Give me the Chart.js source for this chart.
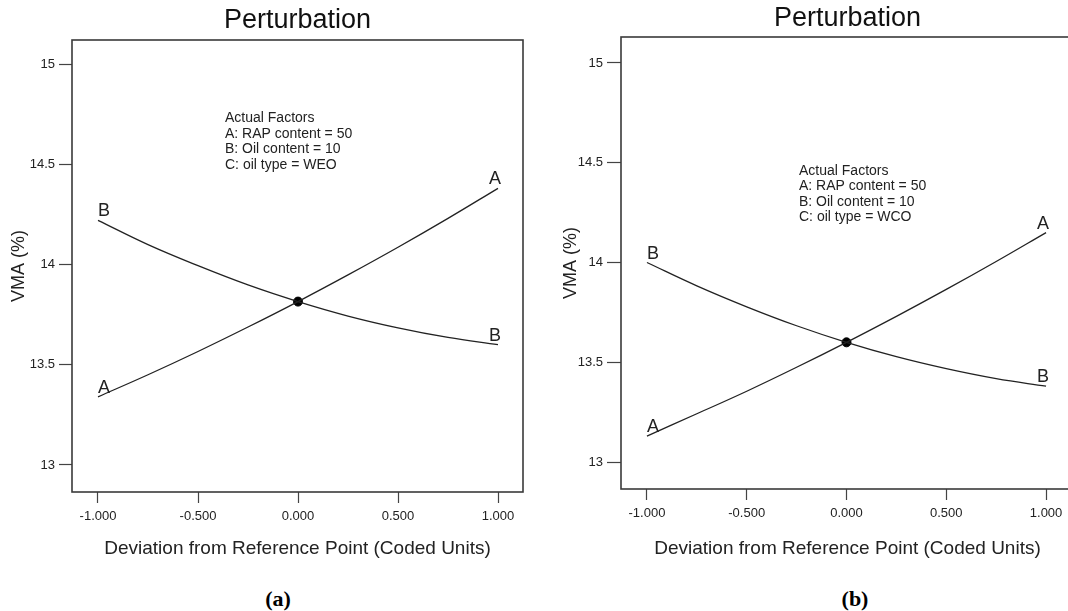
<!DOCTYPE html>
<html>
<head>
<meta charset="utf-8">
<title>Perturbation plots</title>
<script src="https://cdn.jsdelivr.net/npm/chart.js@4.4.1/dist/chart.umd.min.js"></script>
<style>
    html, body { margin: 0; padding: 0; background: #fff; width: 1068px; height: 611px; overflow: hidden; }
    .panel { position: absolute; top: 0; height: 566px; }
    #panelWeo { left: 0; width: 545px; }
    #panelWco { left: 545px; width: 540px; }
    .caption {
        position: absolute; top: 586px; line-height: 24px;
        font: bold 22px "Liberation Serif", "Times New Roman", serif;
        color: #000; transform: translateX(-50%);
    }
</style>
</head>
<body>
<div class="panel" id="panelWeo"><canvas id="chartWeo"></canvas></div>
<div class="panel" id="panelWco"><canvas id="chartWco"></canvas></div>
<div class="caption" style="left:278px">(a)</div>
<div class="caption" style="left:855px">(b)</div>
<script>
"use strict";

// coded deviation from the reference point
const coded = [-1, -0.75, -0.5, -0.25, 0, 0.25, 0.5, 0.75, 1];

// VMA (%) along each factor trace, oil type = WEO
const weoRap = [13.34, 13.45, 13.566, 13.688, 13.815, 13.948, 14.086, 14.23, 14.38];
const weoOil = [14.22, 14.099, 13.994, 13.898, 13.815, 13.743, 13.684, 13.636, 13.60];

// VMA (%) along each factor trace, oil type = WCO
const wcoRap = [13.13, 13.242, 13.355, 13.475, 13.6, 13.73, 13.865, 14.005, 14.15];
const wcoOil = [14.0, 13.883, 13.778, 13.683, 13.6, 13.528, 13.468, 13.418, 13.38];

// reference point (all factors at their actual values)
const refWeo = 13.815;
const refWco = 13.6;

const xTickValues = [-1, -0.5, 0, 0.5, 1];
const yTickValues = [13, 13.5, 14, 14.5, 15];

const factorsWeo = ["Actual Factors", "A: RAP content = 50", "B: Oil content = 10", "C: oil type = WEO"];
const factorsWco = ["Actual Factors", "A: RAP content = 50", "B: Oil content = 10", "C: oil type = WCO"];

const kFont = "'Liberation Sans', Arial, sans-serif";
const kInk = "#222";

Chart.defaults.font.family = kFont;
Chart.defaults.color = kInk;

function toPoints(values) {
    return values.map((y, i) => ({ x: coded[i], y }));
}

// box round the plotting area
const framePlugin = {
    id: "frame",
    afterDraw(chart) {
        const { ctx, chartArea: { left, top, right, bottom } } = chart;
        ctx.save();
        ctx.strokeStyle = "#3a3a3a";
        ctx.lineWidth = 1.6;
        ctx.strokeRect(left, top, right - left, bottom - top);
        ctx.restore();
    }
};

// "A" / "B" at both ends of each trace, plus the actual factors note
const tracePlugin = {
    id: "traceText",
    afterDatasetsDraw(chart, args, opts) {
        const { ctx, scales: { x, y } } = chart;
        ctx.save();
        ctx.fillStyle = kInk;
        ctx.font = `18px ${kFont}`;
        ctx.textBaseline = "alphabetic";
        for (const ds of chart.data.datasets) {
            if (!ds.traceName) continue;
            const first = ds.data[0];
            const last = ds.data[ds.data.length - 1];
            ctx.textAlign = "left";
            ctx.fillText(ds.traceName, x.getPixelForValue(first.x), y.getPixelForValue(first.y) - 4);
            ctx.textAlign = "right";
            ctx.fillText(ds.traceName, x.getPixelForValue(last.x) + 3, y.getPixelForValue(last.y) - 4);
        }

        ctx.font = `14px ${kFont}`;
        ctx.textAlign = "left";
        ctx.textBaseline = "middle";
        const px = x.getPixelForValue(opts.at.x);
        const py = y.getPixelForValue(opts.at.y);
        opts.lines.forEach((line, i) => ctx.fillText(line, px, py + i * 15.5));
        ctx.restore();
    }
};

function createPanel(elementId, payload) {
    const { rap, oil, ref, lines, at, geom } = payload;

    const lineStyle = {
        borderColor: kInk,
        borderWidth: 1.3,
        pointRadius: 0,
        tension: 0.4,
        fill: false
    };

    new Chart(document.getElementById(elementId), {
        type: "line",
        data: {
            datasets: [
                { ...lineStyle, traceName: "A", data: toPoints(rap) },
                { ...lineStyle, traceName: "B", data: toPoints(oil) },
                {
                    data: [{ x: 0, y: ref }],
                    showLine: false,
                    pointRadius: 4.5,
                    pointBackgroundColor: "#000",
                    pointBorderColor: "#000"
                }
            ]
        },
        options: {
            responsive: true,
            maintainAspectRatio: false,
            animation: false,
            layout: { padding: { left: 0, right: geom.padRight, top: 0, bottom: 0 } },
            plugins: {
                legend: { display: false },
                tooltip: { enabled: false },
                title: {
                    display: true,
                    text: "Perturbation",
                    fullSize: false,
                    color: "#111",
                    font: { size: 27, weight: "normal", lineHeight: 1.2 },
                    padding: geom.titlePad
                },
                traceText: { at, lines }
            },
            scales: {
                x: {
                    type: "linear",
                    min: -1.13,
                    max: geom.xMax,
                    border: { display: false },
                    grid: { drawOnChartArea: false, tickLength: 11, tickColor: "#444", tickWidth: 1.2 },
                    ticks: {
                        padding: 6,
                        maxRotation: 0,
                        color: kInk,
                        font: { size: 13 },
                        callback: (v) => v.toFixed(3)
                    },
                    afterBuildTicks: (scale) => {
                        scale.ticks = xTickValues.map((value) => ({ value }));
                    },
                    afterFit: (scale) => {
                        scale.height = geom.xAxisHeight;
                    },
                    title: {
                        display: true,
                        text: "Deviation from Reference Point (Coded Units)",
                        color: kInk,
                        font: { size: 19 },
                        padding: { top: 0, bottom: 6 }
                    }
                },
                y: {
                    min: 12.865,
                    max: geom.yMax,
                    border: { display: false },
                    grid: { drawOnChartArea: false, tickLength: geom.yTick, tickColor: "#444", tickWidth: 1.2 },
                    ticks: {
                        padding: 4,
                        color: kInk,
                        font: { size: 13 },
                        callback: (v) => String(v)
                    },
                    afterBuildTicks: (scale) => {
                        scale.ticks = yTickValues.map((value) => ({ value }));
                    },
                    afterFit: (scale) => {
                        scale.width = geom.yAxisWidth;
                    },
                    title: {
                        display: true,
                        text: "VMA (%)",
                        color: kInk,
                        font: { size: 18 },
                        padding: { top: geom.yTitlePad, bottom: 0 }
                    }
                }
            }
        },
        plugins: [framePlugin, tracePlugin]
    });
}

document.addEventListener("DOMContentLoaded", () => {
    createPanel("chartWeo", {
        rap: weoRap,
        oil: weoOil,
        ref: refWeo,
        lines: factorsWeo,
        at: { x: -0.365, y: 14.73 },
        geom: {
            padRight: 22, xMax: 1.125, yMax: 15.12,
            titlePad: { top: 4, bottom: 3.6 },
            xAxisHeight: 74, yAxisWidth: 72, yTick: 13, yTitlePad: 8
        }
    });

    createPanel("chartWco", {
        rap: wcoRap,
        oil: wcoOil,
        ref: refWco,
        lines: factorsWco,
        at: { x: -0.238, y: 14.46 },
        geom: {
            padRight: 11, xMax: 1.14, yMax: 15.13,
            titlePad: { top: 2, bottom: 2.6 },
            xAxisHeight: 77, yAxisWidth: 76, yTick: 14, yTitlePad: 15
        }
    });
});
</script>
</body>
</html>
